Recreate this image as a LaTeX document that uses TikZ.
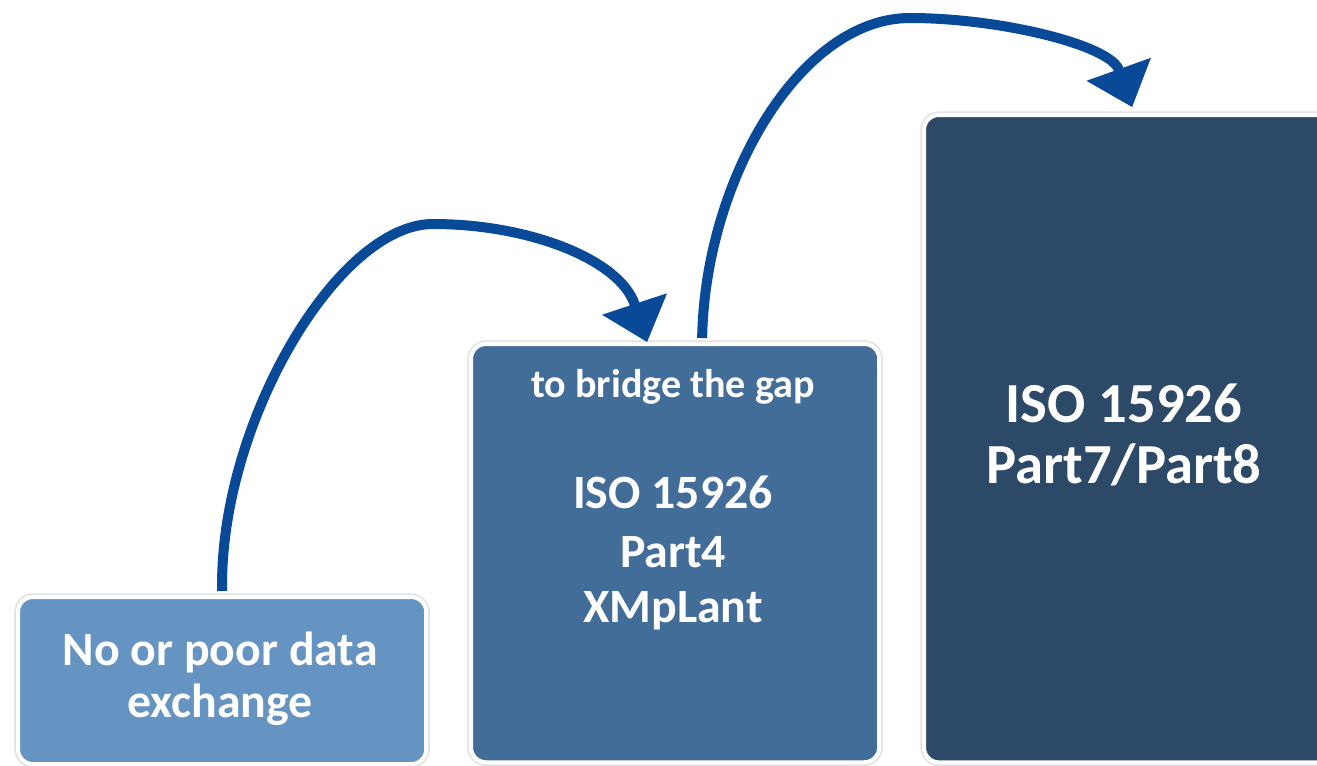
\documentclass[tikz,border=0pt]{standalone}
\usepackage{fontspec}
\setmainfont{Carlito}
\usetikzlibrary{arrows.meta}
\definecolor{boxa}{HTML}{6593C2}
\definecolor{boxb}{HTML}{426D99}
\definecolor{boxc}{HTML}{2D4968}
\definecolor{arrowblue}{HTML}{084A98}
\definecolor{arrowedge}{HTML}{053C80}
\tikzset{
  panel/.style={rounded corners=0.15cm, draw=white, line width=0.04cm,
    preaction={draw=black!11, line width=0.075cm}, anchor=north west,
    minimum width=4.08cm, inner sep=0pt},
  lbl/.style={text=white, font=\bfseries, anchor=base, inner sep=0pt},
  conn/.style={draw=arrowblue, line width=0.1cm,
    -{Triangle[length=0.4cm, width=0.68cm, fill=arrowblue, line width=0.6pt]}},
}
\begin{document}
\begin{tikzpicture}[x=0.01cm, y=-0.01cm]
\useasboundingbox (0,0) rectangle (1317,766);
\clip (0,0) rectangle (1317,766);
% boxes
\node[panel, fill=boxa, minimum height=1.67cm] (b1) at (16,595) {};
\node[panel, fill=boxb, minimum height=4.18cm] (b2) at (469,342) {};
\node[panel, fill=boxc, minimum height=6.47cm] (b3) at (922,113) {};
% texts
\node[lbl, font=\bfseries\fontsize{13.6}{16}\selectfont] (t1a) at (220,665) {No or poor data};
\node[lbl, font=\bfseries\fontsize{13.6}{16}\selectfont] (t1b) at (220,717) {exchange};
\node[lbl, font=\bfseries\fontsize{11.4}{14}\selectfont] (t2a) at (673,397) {to bridge the gap};
\node[lbl, font=\bfseries\fontsize{13.6}{16}\selectfont] (t2b) at (673,508) {ISO 15926};
\node[lbl, font=\bfseries\fontsize{13.6}{16}\selectfont] (t2c) at (673,567) {Part4};
\node[lbl, font=\bfseries\fontsize{13.6}{16}\selectfont] (t2d) at (673,622) {XMpLant};
\node[lbl, font=\bfseries\fontsize{16.1}{19}\selectfont] (t3a) at (1124,422) {ISO 15926};
\node[lbl, font=\bfseries\fontsize{16.1}{19}\selectfont] (t3b) at (1124,483) {Part7/Part8};
% connectors
\draw[conn] ([yshift=0.04cm]b1.north) .. controls (219,425) and (337,224) .. (433,224)
  .. controls (530,224) and (620,260) .. ([xshift=1.78cm]b2.north west);
\draw[conn] ([xshift=2.33cm, yshift=0.04cm]b2.north west) .. controls (705,180) and (800,18) .. (910,18)
  .. controls (1000,18) and (1110,45) .. ([xshift=2.10cm, yshift=0.06cm]b3.north west);
\end{tikzpicture}
\end{document}
